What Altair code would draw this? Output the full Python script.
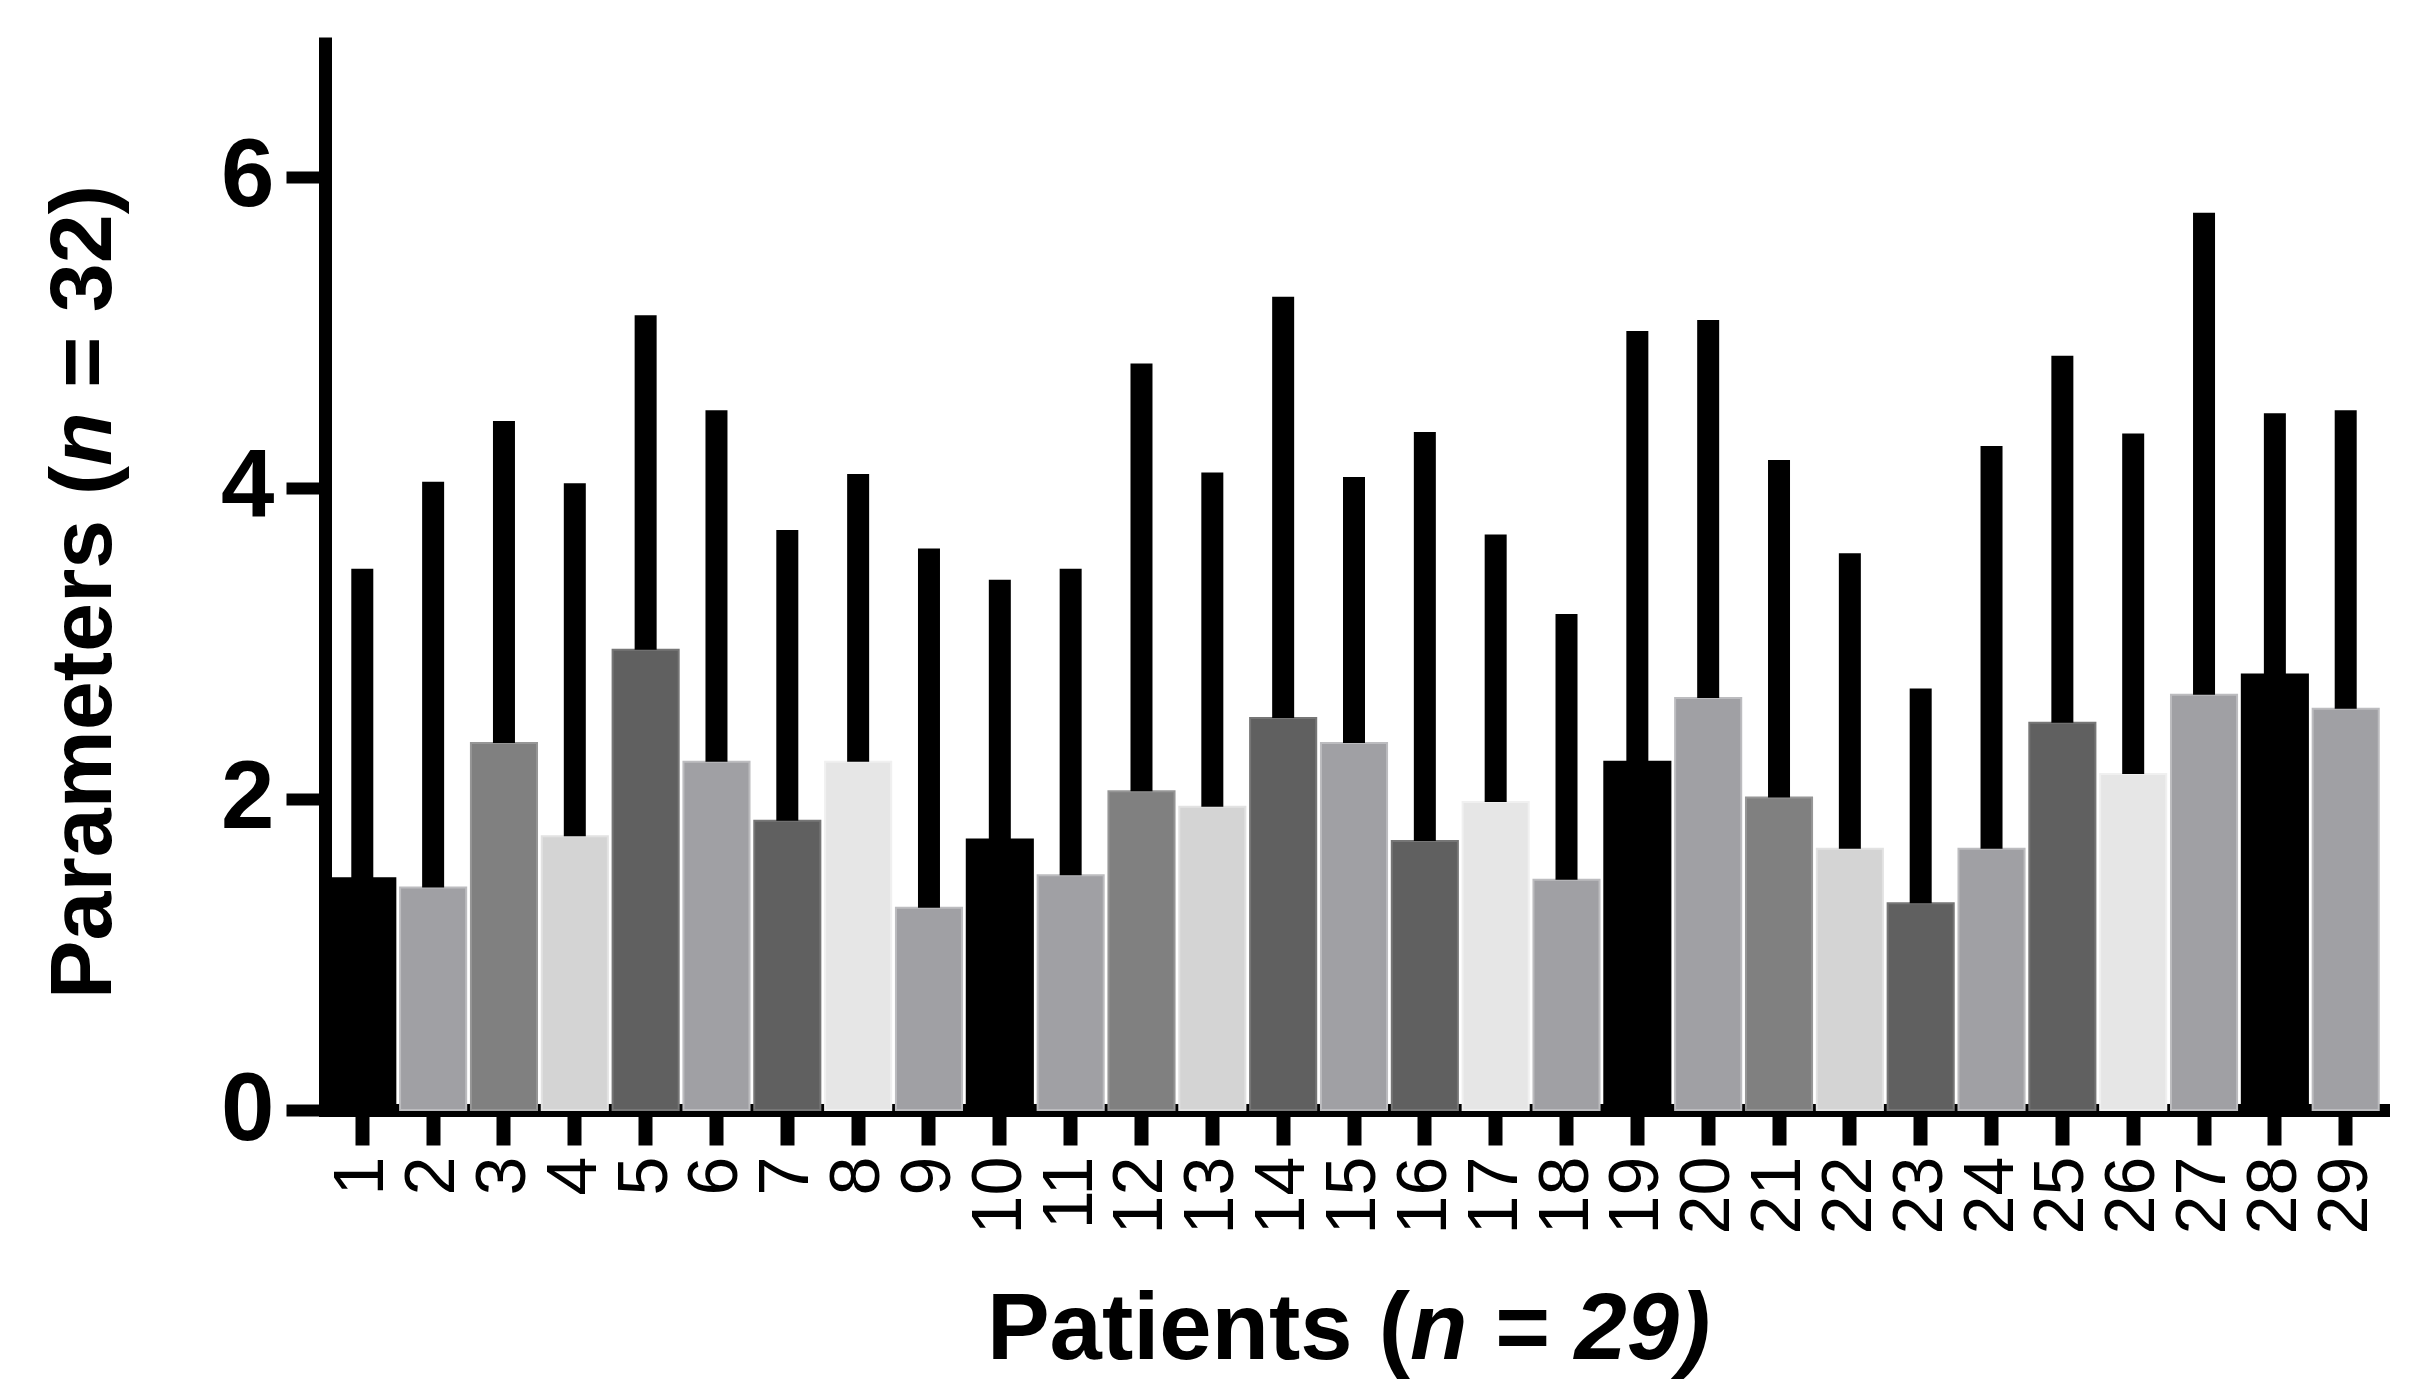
import altair as alt
import pandas as pd

# ---- data ----
patients = [str(i) for i in range(1, 30)]
means = [1.49, 1.43, 2.36, 1.76, 2.96, 2.24, 1.86, 2.24, 1.30, 1.74,
         1.51, 2.05, 1.95, 2.52, 2.36, 1.73, 1.98, 1.48, 2.24, 2.65,
         2.01, 1.68, 1.33, 1.68, 2.49, 2.16, 2.67, 2.80, 2.58]
upper = [3.48, 4.04, 4.43, 4.03, 5.11, 4.50, 3.73, 4.09, 3.61, 3.41,
         3.48, 4.80, 4.10, 5.23, 4.07, 4.36, 3.70, 3.19, 5.01, 5.08,
         4.18, 3.58, 2.71, 4.27, 4.85, 4.35, 5.77, 4.48, 4.50]
y_ticks = [0, 2, 4, 6]

x_title_a = "Patients ("
x_title_b = "n = 29)"
y_title_a = "Parameters ("
y_title_b = "n"
y_title_c = "= 32)"

# ---- styles ----
fill_cycle = ["#000000", "#a0a0a4", "#808080", "#d4d4d4", "#606060",
              "#a0a0a4", "#606060", "#e6e6e6", "#a0a0a4"]
edge_cycle = ["#000000", "#bcbcbf", "#969696", "#e2e2e2", "#767676",
              "#bcbcbf", "#767676", "#f0f0f0", "#bcbcbf"]
bar_fill = [fill_cycle[i % 9] for i in range(len(patients))]
bar_edge = [edge_cycle[i % 9] for i in range(len(patients))]

FONT = "Liberation Sans"
W, H = 2058, 1073

df = pd.DataFrame({"patient": patients, "mean": means, "upper": upper})

x_enc = alt.X(
    "patient:N", sort=patients,
    scale=alt.Scale(paddingInner=0.067, paddingOuter=0.06),
    axis=alt.Axis(
        title=None, labelAngle=270, labelAlign="right", labelBaseline="middle",
        labelFont=FONT, labelFontSize=70, labelColor="black", labelPadding=11,
        tickSize=35, tickWidth=14, tickColor="black",
        domainColor="black", domainWidth=13, domainCap="square", grid=False,
    ),
)
y_scale = alt.Scale(domain=[0, 6.9], nice=False, zero=True)

bars = alt.Chart(df).mark_bar(strokeWidth=2).encode(
    x=x_enc,
    y=alt.Y(
        "mean:Q", scale=y_scale,
        axis=alt.Axis(
            title=None, values=y_ticks, format="d", labelFont=FONT, labelFontSize=96,
            labelFontWeight="bold", labelColor="black", labelPadding=12,
            tickSize=39, tickWidth=12, tickColor="black",
            domainColor="black", domainWidth=13, grid=False,
        ),
    ),
    color=alt.Color("patient:N", scale=alt.Scale(domain=patients, range=bar_fill), legend=None),
    stroke=alt.Stroke("patient:N", scale=alt.Scale(domain=patients, range=bar_edge), legend=None),
)

err = alt.Chart(df).mark_bar(width=22, color="black").encode(
    x=alt.X("patient:N", sort=patients),
    y=alt.Y("mean:Q", scale=y_scale),
    y2="upper:Q",
)


def text_piece(txt, x, y, size, align, angle=0, style="normal"):
    return alt.Chart(pd.DataFrame({"t": [txt]})).mark_text(
        align=align, baseline="alphabetic", font=FONT, fontSize=size,
        fontWeight="bold", fontStyle=style, angle=angle, color="black",
    ).encode(x=alt.value(x), y=alt.value(y), text="t:N")


titles = [
    text_piece(x_title_a, 1085, 1322, 94, "right"),
    text_piece(x_title_b, 1085, 1322, 94, "left", style="italic"),
    text_piece(y_title_a, -214, 429, 88, "right", angle=270),
    text_piece(y_title_b, -214, 429, 88, "left", angle=270, style="italic"),
    text_piece(y_title_c, -214, 351, 88, "left", angle=270),
]

chart = alt.layer(bars, err, *titles).properties(
    width=W, height=H,
    padding={"left": 317, "top": 29, "right": 30, "bottom": 270},
    autosize=alt.AutoSizeParams(type="none"),
    background="white",
).configure_view(stroke=None)

chart.save("out.html", embed_options={"renderer": "svg", "actions": False})
